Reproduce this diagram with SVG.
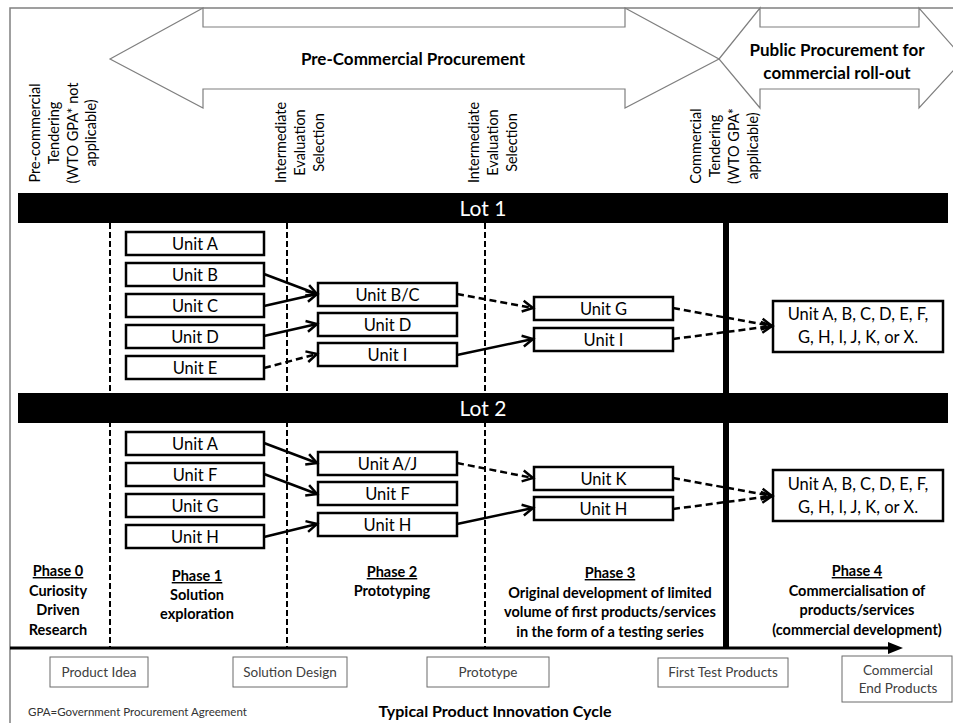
<svg xmlns="http://www.w3.org/2000/svg" width="953" height="723" viewBox="0 0 953 723">
<style>
text{font-family:Lato,"Liberation Sans",sans-serif;fill:#000}
.big{fill:#fff;stroke:#7f7f7f;stroke-width:1.2}
.hdr{font-weight:bold;font-size:17px;text-anchor:middle}
.rot{font-size:14.5px;text-anchor:middle}
.lot{font-size:21px;fill:#fff;text-anchor:middle}
.bar{fill:#000}
.vd{stroke:#000;stroke-width:2;stroke-dasharray:6,3;fill:none}
.box{fill:#fff;stroke:#000;stroke-width:2.5}
.bt{font-size:16.5px;text-anchor:middle}
.c{stroke:#000;stroke-width:2.5;fill:none;marker-end:url(#ah)}
.d{stroke-dasharray:7,4}
.ph{font-weight:bold;font-size:14.5px;text-anchor:middle}
.ul{text-decoration:underline}
.pb{fill:#fff;stroke:#6b6b6b;stroke-width:1}
.pt{font-size:13.5px;fill:#404040;text-anchor:middle}
</style>
<defs>
<marker id="ah" markerUnits="userSpaceOnUse" markerWidth="16" markerHeight="16" refX="12" refY="7" orient="auto">
<path d="M1.5,1.5 L12,7 L1.5,12.5" fill="none" stroke="#000" stroke-width="2.5" stroke-dasharray="none"/>
</marker>
</defs>
<rect width="953" height="723" fill="#fff"/>
<path d="M10,723 V8 H953" fill="none" stroke="#808080" stroke-width="1.5"/>

<g id="pcp-arrow">
<polygon class="big" points="110,59 203,8 203,27 625,27 625,8 719,59 625,108 625,89 203,89 203,108"/>
<text class="hdr" x="413" y="65">Pre-Commercial Procurement</text>
</g>
<g id="pp-arrow">
<polygon class="big" points="719,59 760,8 760,27 919,27 919,8 964,59 919,108 919,89 760,89 760,108"/>
<text class="hdr" x="837" y="56">Public Procurement for</text>
<text class="hdr" x="837" y="79">commercial roll-out</text>
</g>

<g id="label-precommercial">
<text class="rot" transform="translate(0,133) rotate(-90)"><tspan x="0" y="40">Pre-commercial</tspan><tspan x="0" y="58.8">Tendering</tspan><tspan x="0" y="77.6">(WTO GPA* not</tspan><tspan x="0" y="96.4">applicable)</tspan></text>
</g>
<g id="label-ies1">
<text class="rot" transform="translate(0,142.5) rotate(-90)"><tspan x="0" y="286">Intermediate</tspan><tspan x="0" y="305">Evaluation</tspan><tspan x="0" y="324">Selection</tspan></text>
</g>
<g id="label-ies2">
<text class="rot" transform="translate(0,142.5) rotate(-90)"><tspan x="0" y="479">Intermediate</tspan><tspan x="0" y="498">Evaluation</tspan><tspan x="0" y="517">Selection</tspan></text>
</g>
<g id="label-commercial">
<text class="rot" transform="translate(0,146) rotate(-90)"><tspan x="0" y="701">Commercial</tspan><tspan x="0" y="720">Tendering</tspan><tspan x="0" y="739">(WTO GPA*</tspan><tspan x="0" y="758">applicable)</tspan></text>
</g>

<g id="dividers">
<line class="vd" x1="110" y1="223" x2="110" y2="647"/>
<line class="vd" x1="287" y1="223" x2="287" y2="647"/>
<line class="vd" x1="485" y1="223" x2="485" y2="647"/>
<line x1="726" y1="223" x2="726" y2="648" stroke="#000" stroke-width="6"/>
</g>

<g id="lot1">
<rect class="bar" x="18" y="193" width="930" height="30"/>
<text class="lot" x="483" y="216">Lot 1</text>
</g>
<g id="lot2">
<rect class="bar" x="18" y="393" width="930" height="30"/>
<text class="lot" x="483" y="416">Lot 2</text>
</g>

<g id="l1-unitA"><rect class="box" x="126" y="232" width="138" height="23"/><text class="bt" x="195" y="249.5">Unit A</text></g>
<g id="l1-unitB"><rect class="box" x="126" y="263" width="138" height="23"/><text class="bt" x="195" y="280.5">Unit B</text></g>
<g id="l1-unitC"><rect class="box" x="126" y="294" width="138" height="23"/><text class="bt" x="195" y="311.5">Unit C</text></g>
<g id="l1-unitD"><rect class="box" x="126" y="325" width="138" height="23"/><text class="bt" x="195" y="342.5">Unit D</text></g>
<g id="l1-unitE"><rect class="box" x="126" y="356" width="138" height="23"/><text class="bt" x="195" y="373.5">Unit E</text></g>
<g id="l1-unitBC"><rect class="box" x="318" y="283" width="139" height="23"/><text class="bt" x="387.5" y="300.5">Unit B/C</text></g>
<g id="l1-unitD2"><rect class="box" x="318" y="313" width="139" height="23"/><text class="bt" x="387.5" y="330.5">Unit D</text></g>
<g id="l1-unitI2"><rect class="box" x="318" y="343" width="139" height="23"/><text class="bt" x="387.5" y="360.5">Unit I</text></g>
<g id="l1-unitG3"><rect class="box" x="534" y="297" width="139" height="23"/><text class="bt" x="603.5" y="314.5">Unit G</text></g>
<g id="l1-unitI3"><rect class="box" x="534" y="328" width="139" height="23"/><text class="bt" x="603.5" y="345.5">Unit I</text></g>
<g id="l1-final"><rect class="box" x="773" y="301" width="170" height="51"/><text class="bt" x="858" y="320">Unit A, B, C, D, E, F,</text><text class="bt" x="858" y="343">G, H, I, J, K, or X.</text></g>

<g id="l2-unitA"><rect class="box" x="126" y="432" width="138" height="23"/><text class="bt" x="195" y="449.5">Unit A</text></g>
<g id="l2-unitF"><rect class="box" x="126" y="463" width="138" height="23"/><text class="bt" x="195" y="480.5">Unit F</text></g>
<g id="l2-unitG"><rect class="box" x="126" y="494" width="138" height="23"/><text class="bt" x="195" y="511.5">Unit G</text></g>
<g id="l2-unitH"><rect class="box" x="126" y="525" width="138" height="23"/><text class="bt" x="195" y="542.5">Unit H</text></g>
<g id="l2-unitAJ"><rect class="box" x="318" y="452" width="139" height="23"/><text class="bt" x="387.5" y="469.5">Unit A/J</text></g>
<g id="l2-unitF2"><rect class="box" x="318" y="482" width="139" height="23"/><text class="bt" x="387.5" y="499.5">Unit F</text></g>
<g id="l2-unitH2"><rect class="box" x="318" y="513" width="139" height="23"/><text class="bt" x="387.5" y="530.5">Unit H</text></g>
<g id="l2-unitK3"><rect class="box" x="534" y="467" width="139" height="23"/><text class="bt" x="603.5" y="484.5">Unit K</text></g>
<g id="l2-unitH3"><rect class="box" x="534" y="497" width="139" height="23"/><text class="bt" x="603.5" y="514.5">Unit H</text></g>
<g id="l2-final"><rect class="box" x="773" y="470" width="170" height="51"/><text class="bt" x="858" y="490">Unit A, B, C, D, E, F,</text><text class="bt" x="858" y="513">G, H, I, J, K,  or X.</text></g>

<g id="connectors">
<line class="c" x1="264" y1="274" x2="317" y2="294"/>
<line class="c" x1="264" y1="306" x2="317" y2="294"/>
<line class="c" x1="264" y1="336" x2="317" y2="324"/>
<line class="c d" x1="264" y1="368" x2="317" y2="354"/>
<line class="c d" x1="457" y1="294" x2="533" y2="308"/>
<line class="c" x1="457" y1="355" x2="533" y2="339"/>
<line class="c d" x1="673" y1="308" x2="772" y2="326"/>
<line class="c d" x1="673" y1="339" x2="772" y2="326"/>
<line class="c" x1="264" y1="443" x2="317" y2="463"/>
<line class="c" x1="264" y1="474" x2="317" y2="494"/>
<line class="c" x1="264" y1="537" x2="317" y2="524"/>
<line class="c d" x1="457" y1="463" x2="533" y2="478"/>
<line class="c" x1="457" y1="524" x2="533" y2="508"/>
<line class="c d" x1="673" y1="478" x2="772" y2="496"/>
<line class="c d" x1="673" y1="509" x2="772" y2="496"/>
</g>

<g id="phase0"><text class="ph"><tspan class="ul" x="58" y="576">Phase 0</tspan><tspan x="58" y="596">Curiosity</tspan><tspan x="58" y="615">Driven</tspan><tspan x="58" y="635">Research</tspan></text></g>
<g id="phase1"><text class="ph"><tspan class="ul" x="197" y="581">Phase 1</tspan><tspan x="197" y="600">Solution</tspan><tspan x="197" y="619">exploration</tspan></text></g>
<g id="phase2"><text class="ph"><tspan class="ul" x="392" y="577">Phase 2</tspan><tspan x="392" y="596">Prototyping</tspan></text></g>
<g id="phase3"><text class="ph"><tspan class="ul" x="610" y="578">Phase 3</tspan><tspan x="610" y="598">Original development of limited</tspan><tspan x="610" y="617">volume of first products/services</tspan><tspan x="610" y="637">in the form of a testing series</tspan></text></g>
<g id="phase4"><text class="ph"><tspan class="ul" x="857" y="576">Phase 4</tspan><tspan x="857" y="596">Commercialisation of</tspan><tspan x="857" y="615">products/services</tspan><tspan x="857" y="635">(commercial development)</tspan></text></g>

<g id="axis">
<line x1="10" y1="648" x2="892" y2="648" stroke="#000" stroke-width="3"/>
<polygon points="903,648 888,642 888,654" fill="#000"/>
</g>

<g id="product-idea"><rect class="pb" x="50" y="657" width="98" height="30"/><text class="pt" x="99" y="677">Product Idea</text></g>
<g id="solution-design"><rect class="pb" x="233" y="657" width="114" height="30"/><text class="pt" x="290" y="677">Solution Design</text></g>
<g id="prototype"><rect class="pb" x="427" y="657" width="122" height="30"/><text class="pt" x="488" y="677">Prototype</text></g>
<g id="first-test"><rect class="pb" x="658" y="658" width="130" height="29"/><text class="pt" x="723" y="677">First Test Products</text></g>
<g id="commercial-end"><rect class="pb" x="842" y="656" width="110" height="46"/><text class="pt" x="898" y="675">Commercial</text><text class="pt" x="898" y="693">End Products</text></g>

<text x="495" y="717" style="font-weight:bold;font-size:16px;text-anchor:middle">Typical Product Innovation Cycle</text>
<text x="28" y="716" style="font-size:11.5px;fill:#333">GPA=Government Procurement Agreement</text>
</svg>
